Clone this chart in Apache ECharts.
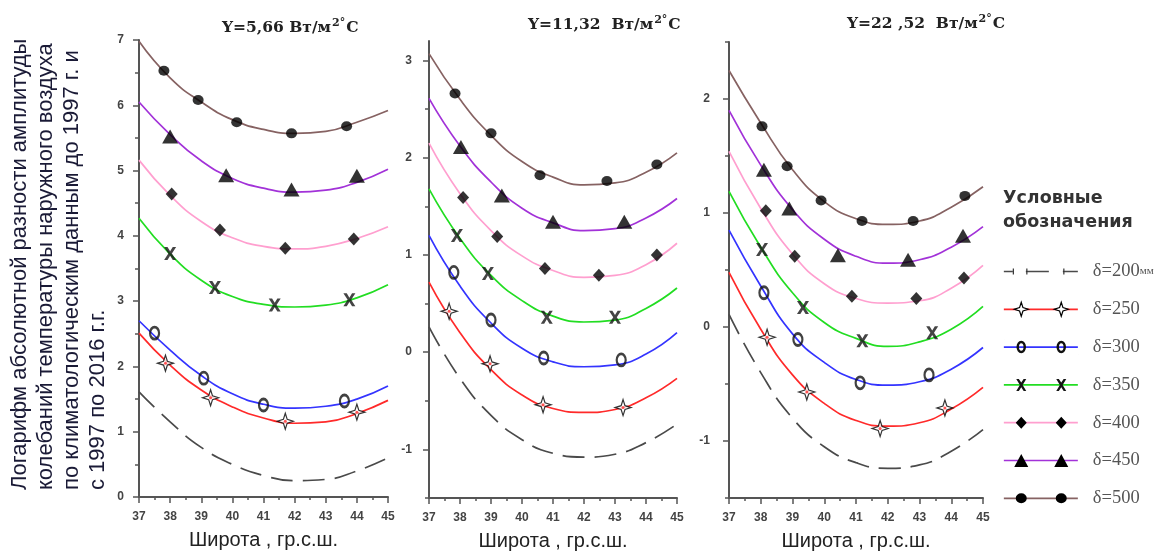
<!DOCTYPE html>
<html>
<head>
<meta charset="utf-8">
<script src="https://cdn.jsdelivr.net/npm/echarts@6/dist/echarts.min.js"></script>
<style>
  html, body { margin: 0; padding: 0; background: #fff; }
  #chart { width: 1172px; height: 553px; }
</style>
</head>
<body>
<div id="chart"></div>
<script>
// широта, гр.с.ш.
const lat = [37, 38, 39, 40, 41, 42, 43, 44, 45];
const deltas = ['δ=200мм', 'δ=250', 'δ=300', 'δ=350', 'δ=400', 'δ=450', 'δ=500'];

// Y=5,66
const a200 = [1.61, 1.15, 0.76, 0.50, 0.33, 0.25, 0.27, 0.40, 0.60];
const a250 = [2.51, 2.02, 1.64, 1.38, 1.21, 1.13, 1.15, 1.28, 1.48];
const a300 = [2.70, 2.25, 1.86, 1.58, 1.42, 1.36, 1.39, 1.50, 1.70];
const a350 = [4.27, 3.72, 3.32, 3.07, 2.95, 2.91, 2.94, 3.05, 3.25];
const a400 = [5.16, 4.62, 4.22, 3.97, 3.84, 3.80, 3.84, 3.96, 4.14];
const a450 = [6.05, 5.55, 5.15, 4.88, 4.73, 4.67, 4.70, 4.82, 5.02];
const a500 = [6.98, 6.42, 6.05, 5.78, 5.63, 5.57, 5.60, 5.74, 5.92];
const pa250 = [[37.85, 2.05], [39.3, 1.52], [41.7, 1.16], [44.0, 1.30]];
const pa300 = [[37.5, 2.51], [39.08, 1.82], [41.0, 1.41], [43.6, 1.47]];
const pa350 = [[38.0, 3.73], [39.44, 3.21], [41.36, 2.94], [43.76, 3.02]];
const pa400 = [[38.05, 4.64], [39.6, 4.09], [41.7, 3.81], [43.9, 3.95]];
const pa450 = [[38.0, 5.52], [39.8, 4.93], [41.9, 4.71], [44.0, 4.92]];
const pa500 = [[37.8, 6.53], [38.9, 6.08], [40.14, 5.74], [41.9, 5.57], [43.67, 5.68]];

// Y=11,32
const b200 = [0.26, -0.27, -0.65, -0.90, -1.04, -1.08, -1.05, -0.93, -0.74];
const b250 = [0.72, 0.20, -0.18, -0.44, -0.58, -0.62, -0.59, -0.47, -0.27];
const b300 = [1.20, 0.68, 0.30, 0.04, -0.10, -0.15, -0.13, -0.02, 0.20];
const b350 = [1.68, 1.17, 0.79, 0.53, 0.37, 0.31, 0.33, 0.45, 0.66];
const b400 = [2.15, 1.63, 1.25, 0.99, 0.84, 0.77, 0.79, 0.90, 1.12];
const b450 = [2.61, 2.12, 1.75, 1.48, 1.33, 1.25, 1.27, 1.38, 1.58];
const b500 = [3.07, 2.60, 2.23, 1.96, 1.80, 1.72, 1.74, 1.85, 2.05];
const pb250 = [[37.65, 0.42], [38.97, -0.12], [40.68, -0.54], [43.26, -0.57]];
const pb300 = [[37.8, 0.82], [39.0, 0.33], [40.7, -0.06], [43.2, -0.08]];
const pb350 = [[37.9, 1.20], [38.9, 0.81], [40.8, 0.36], [43.0, 0.36]];
const pb400 = [[38.1, 1.59], [39.2, 1.19], [40.74, 0.86], [42.48, 0.79], [44.35, 1.00]];
const pb450 = [[38.03, 2.11], [39.35, 1.61], [41.0, 1.34], [43.3, 1.34]];
const pb500 = [[37.84, 2.66], [39.0, 2.25], [40.58, 1.82], [42.74, 1.76], [44.35, 1.93]];

// Y=22,52
const c200 = [0.11, -0.40, -0.80, -1.05, -1.19, -1.24, -1.21, -1.09, -0.90];
const c250 = [0.48, -0.02, -0.42, -0.67, -0.82, -0.87, -0.84, -0.72, -0.53];
const c300 = [0.85, 0.36, -0.06, -0.31, -0.46, -0.51, -0.48, -0.37, -0.18];
const c350 = [1.19, 0.70, 0.30, 0.04, -0.10, -0.17, -0.13, -0.02, 0.18];
const c400 = [1.54, 1.04, 0.64, 0.38, 0.25, 0.21, 0.23, 0.34, 0.54];
const c450 = [1.90, 1.42, 1.03, 0.77, 0.62, 0.56, 0.59, 0.70, 0.88];
const c500 = [2.25, 1.79, 1.38, 1.10, 0.95, 0.90, 0.93, 1.05, 1.23];
const pc250 = [[38.2, -0.09], [39.45, -0.57], [41.76, -0.89], [43.8, -0.71]];
const pc300 = [[38.1, 0.30], [39.17, -0.11], [41.13, -0.49], [43.3, -0.42]];
const pc350 = [[38.04, 0.68], [39.33, 0.17], [41.2, -0.12], [43.4, -0.05]];
const pc400 = [[38.16, 1.02], [39.07, 0.62], [40.87, 0.27], [42.9, 0.25], [44.4, 0.43]];
const pc450 = [[38.1, 1.38], [38.9, 1.04], [40.43, 0.63], [42.64, 0.59], [44.37, 0.80]];
const pc500 = [[38.04, 1.76], [38.83, 1.41], [39.9, 1.11], [41.19, 0.93], [42.8, 0.93], [44.43, 1.15]];

const yTicks1 = [0, 1, 2, 3, 4, 5, 6, 7];
const yTicks2 = [-1, 0, 1, 2, 3];
const yTicks3 = [-1, 0, 1, 2];

const curves = [
    [a200, a250, a300, a350, a400, a450, a500],
    [b200, b250, b300, b350, b400, b450, b500],
    [c200, c250, c300, c350, c400, c450, c500]
];
const points = [
    [null, pa250, pa300, pa350, pa400, pa450, pa500],
    [null, pb250, pb300, pb350, pb400, pb450, pb500],
    [null, pc250, pc300, pc350, pc400, pc450, pc500]
];

const colors = ['#4a4a4a', '#ff2a2a', '#3434ff', '#22dd22', '#ff9fcf', '#a232d8', '#866262'];
const starPath = 'path://M5,0 L6.2,3.8 L10,5 L6.2,6.2 L5,10 L3.8,6.2 L0,5 L3.8,3.8 Z';
const crossPath = 'path://M0,0 L2.8,0 L5,3.3 L7.2,0 L10,0 L6.5,5 L10,10 L7.2,10 L5,6.7 L2.8,10 L0,10 L3.5,5 Z';
// маркеры для каждой толщины
const marks = [
    { symbol: 'none', size: 0, style: { color: '#333' } },
    { symbol: starPath, size: 16, style: { color: '#fff', borderColor: '#000', borderWidth: 1.2 } },
    { symbol: 'circle', size: [9, 12], style: { color: 'rgba(255,255,255,0)', borderColor: '#111', borderWidth: 2.5 } },
    { symbol: crossPath, size: [12, 13], style: { color: '#151515' } },
    { symbol: 'diamond', size: [12, 13], style: { color: '#000' } },
    { symbol: 'triangle', size: [16, 14], style: { color: '#000' } },
    { symbol: 'circle', size: [11, 10], style: { color: '#000' } }
];

// значки легенды: по два маркера на отрезке 74x14
const LW = 74, LH = 14;
const frame = `M0,0 L0.01,0 Z M${LW},${LH} L${LW - 0.01},${LH} Z `;
const twice = f => 'path://' + frame + f(17) + ' ' + f(57);
const legendIcons = [
    'path://' + frame + 'M8.5,4 L9.7,4 L9.7,10 L8.5,10 Z M22,4 L23.2,4 L23.2,10 L22,10 Z M59,4 L60.2,4 L60.2,10 L59,10 Z',
    twice(c => `M${c},0 L${c + 1.7},5.3 L${c + 7},7 L${c + 1.7},8.7 L${c},14 L${c - 1.7},8.7 L${c - 7},7 L${c - 1.7},5.3 Z`),
    twice(c => `M${c - 3.5},7 A3.5,5 0 1,0 ${c + 3.5},7 A3.5,5 0 1,0 ${c - 3.5},7 Z`),
    twice(c => `M${c - 5},1 L${c - 2.4},1 L${c},4.6 L${c + 2.4},1 L${c + 5},1 L${c + 1.4},7 L${c + 5},13 L${c + 2.4},13 L${c},9.4 L${c - 2.4},13 L${c - 5},13 L${c - 1.4},7 Z`),
    twice(c => `M${c},1 L${c + 5.5},7 L${c},13 L${c - 5.5},7 Z`),
    twice(c => `M${c},0.5 L${c + 7},13.5 L${c - 7},13.5 Z`),
    twice(c => `M${c - 5.5},7 A5.5,5 0 1,0 ${c + 5.5},7 A5.5,5 0 1,0 ${c - 5.5},7 Z`)
];

const grids = [
    { left: 139, top: 40, width: 249, height: 457 },
    { left: 429, top: 41, width: 248, height: 457 },
    { left: 729, top: 42, width: 254, height: 456 }
];
const yRange = [[0, 7], [-1.5, 3.2], [-1.5, 2.5]];
const yTicks = [yTicks1, yTicks2, yTicks3];
const labelMargin = [15, 17, 19];

const axisColor = '#555';
const tickFont = { fontFamily: 'Arial', fontWeight: 'bold', fontSize: 12, color: '#444' };

const xAxes = grids.map((g, i) => ({
    type: 'value', gridIndex: i, min: 37, max: 45, interval: 1,
    name: 'Широта , гр.с.ш.', nameLocation: 'middle', nameGap: 33,
    nameTextStyle: { fontFamily: 'Arial', fontSize: 20, color: '#222' },
    axisLine: { onZero: false, lineStyle: { color: axisColor, width: 2 } },
    axisTick: { length: 6, lineStyle: { color: axisColor, width: 1.5 } },
    minorTick: { show: true, splitNumber: 2, length: 3, lineStyle: { color: axisColor, width: 1.5 } },
    axisLabel: Object.assign({ margin: 14 }, tickFont),
    splitLine: { show: false }
}));

const yAxes = grids.map((g, i) => ({
    type: 'value', gridIndex: i, position: 'left', min: yRange[i][0], max: yRange[i][1],
    axisLine: { show: true, onZero: false, lineStyle: { color: axisColor, width: 2 } },
    axisTick: { show: true, length: 6, customValues: yTicks[i], lineStyle: { color: axisColor, width: 1.5 } },
    axisLabel: Object.assign({ margin: labelMargin[i], customValues: yTicks[i] }, tickFont),
    splitLine: { show: false }
}));
// половинные (малые) деления по оси Y
grids.forEach((g, i) => {
    const halves = yTicks[i].map(v => v + 0.5).concat([yTicks[i][0] - 0.5])
        .filter(v => v >= yRange[i][0] && v <= yRange[i][1]);
    yAxes.push({
        type: 'value', gridIndex: i, position: 'left', offset: 0, min: yRange[i][0], max: yRange[i][1],
        axisLine: { show: true, onZero: false, lineStyle: { color: 'rgba(0,0,0,0)' } },
        axisTick: { show: true, length: 4, customValues: halves, lineStyle: { color: axisColor, width: 1.5 } },
        axisLabel: { show: false },
        splitLine: { show: false }
    });
});

const series = [];
curves.forEach((panel, i) => {
    panel.forEach((arr, k) => {
        series.push({
            name: deltas[k], type: 'line', xAxisIndex: i, yAxisIndex: i,
            data: lat.map((x, j) => [x, arr[j]]),
            smooth: 0.5, showSymbol: false, symbol: 'circle',
            lineStyle: { color: colors[k], width: 1.7, type: k === 0 ? [22, 10] : 'solid' },
            itemStyle: { color: colors[k] },
            z: 2, silent: true
        });
        const pts = points[i][k];
        if (!pts) return;
        series.push({
            name: 'm' + deltas[k], type: 'scatter', xAxisIndex: i, yAxisIndex: i,
            data: pts, symbol: marks[k].symbol, symbolSize: marks[k].size,
            itemStyle: marks[k].style, z: 4, silent: true
        });
        if (k === 1) {
            series.push({
                name: 'c' + deltas[k], type: 'scatter', xAxisIndex: i, yAxisIndex: i,
                data: pts, symbol: 'circle', symbolSize: 3,
                itemStyle: { color: '#ff2a2a' }, z: 5, silent: true
            });
        }
    });
});

const titleRich = {
    a: { fontFamily: 'DejaVu Serif', fontWeight: 'bold', fontSize: 15.5, color: '#222' },
    s: { fontFamily: 'DejaVu Serif', fontWeight: 'bold', fontSize: 11, color: '#222', padding: [0, 1, 9, 1] }
};

const legendText = (color) => ({
    padding: [0, 0, 0, 10], lineHeight: 14,
    rich: {
        a: { fontFamily: 'Liberation Serif', fontSize: 18.5, color: color, lineHeight: 14 },
        b: { fontFamily: 'Liberation Serif', fontSize: 11, color: color, lineHeight: 14 }
    }
});
const legendBase = {
    orient: 'vertical', left: 1003, top: 262, padding: 0,
    itemWidth: LW, itemHeight: LH, itemGap: 18.8,
    selectedMode: false,
    formatter: name => name === 'δ=200мм' ? '{a|δ=200}{b|мм}' : '{a|' + name + '}'
};

const chart = echarts.init(document.getElementById('chart'));
chart.setOption({
    backgroundColor: '#fff',
    animation: false,
    title: [
        { text: '{a|Y=5,66 Вт/м}{s|2°}{a|С}', left: 222, top: 18, padding: 0, textStyle: { rich: titleRich } },
        { text: '{a|Y=11,32  Вт/м}{s|2°}{a|С}', left: 528, top: 15, padding: 0, textStyle: { rich: titleRich } },
        { text: '{a|Y=22 ,52  Вт/м}{s|2°}{a|С}', left: 847, top: 14, padding: 0, textStyle: { rich: titleRich } },
        {
            text: 'Условные\nобозначения', left: 1003, top: 186, padding: 0,
            textStyle: { fontFamily: 'DejaVu Sans', fontWeight: 'bold', fontSize: 17.5, lineHeight: 24, color: '#333' }
        }
    ],
    legend: [
        // линии
        Object.assign({}, legendBase, {
            data: deltas.map((d, k) => ({
                name: d, itemStyle: { opacity: 0 },
                lineStyle: k === 0 ? { type: [9, 13, 23, 14, 15, 100], width: 1.7 } : { width: 1.7 }
            })),
            textStyle: legendText('#555')
        }),
        // маркеры поверх линий
        Object.assign({}, legendBase, {
            z: 5,
            data: deltas.map((d, k) => ({ name: d, icon: legendIcons[k], itemStyle: marks[k].style })),
            textStyle: legendText('rgba(0,0,0,0)')
        })
    ],
    graphic: [{
        type: 'text', x: 7, y: 490, rotation: Math.PI / 2,
        style: {
            text: 'Логарифм абсолютной разности амплитуды\n' +
                'колебаний температуры наружного воздуха\n' +
                'по климатологическим данным до 1997 г. и\n' +
                'с 1997 по 2016 г.г.',
            font: '22px Arial', fill: '#1a1a36', lineHeight: 26,
            align: 'left', verticalAlign: 'top'
        }
    }],
    grid: grids.map(g => Object.assign({ outerBoundsMode: 'none' }, g)),
    xAxis: xAxes,
    yAxis: yAxes,
    series: series
});
</script>
</body>
</html>
